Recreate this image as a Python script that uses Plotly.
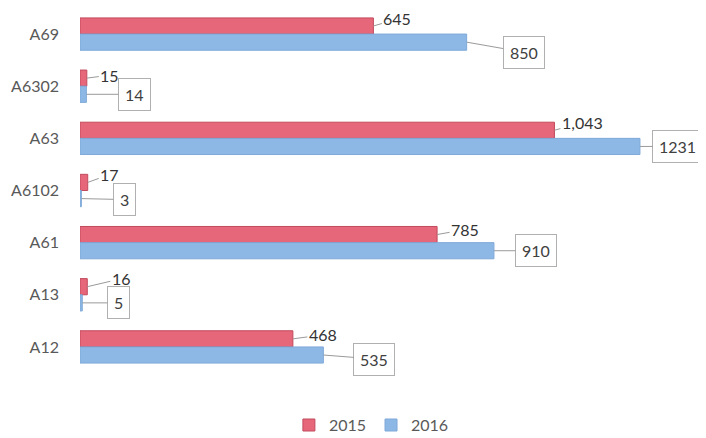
import plotly.graph_objects as go

categories = ["A69", "A6302", "A63", "A6102", "A61", "A13", "A12"]
values_2015 = [645, 15, 1043, 17, 785, 16, 468]
values_2016 = [850, 14, 1231, 3, 910, 5, 535]
labels_2015 = ["645", "15", "1,043", "17", "785", "16", "468"]
labels_2016 = ["850", "14", "1231", "3", "910", "5", "535"]

# label offsets (pixels)
off_2015 = [(24, -7), (23, -3), (28, -8), (22, -8), (28, -5), (34, -8), (30, -4)]
off_2016 = [(57, 10), (48, 0), (38, 0), (43, 1), (42, 0), (36, 0), (51, 4)]

RED = "#E6677A"
BLUE = "#8DB8E6"
FONT = "Lato, 'Open Sans', sans-serif"

fig = go.Figure()
fig.add_trace(go.Bar(
    name="2015", y=categories, x=values_2015, orientation="h",
    marker=dict(color=RED, line=dict(color="#C24A5C", width=1)),
))
fig.add_trace(go.Bar(
    name="2016", y=categories, x=values_2016, orientation="h",
    marker=dict(color=BLUE, line=dict(color="#7FA9D8", width=1)),
))

bar_w = 0.31
annotations = []
for i, cat in enumerate(categories):
    ax1, ay1 = off_2015[i]
    annotations.append(dict(
        x=values_2015[i], y=i - bar_w / 2, xref="x", yref="y",
        text=labels_2015[i], showarrow=True, arrowhead=0, arrowwidth=1,
        arrowcolor="#9a9a9a", ax=ax1, ay=ay1, standoff=0,
        font=dict(family=FONT, size=16, color="#333333"),
    ))
    ax2, ay2 = off_2016[i]
    annotations.append(dict(
        x=values_2016[i], y=i + bar_w / 2, xref="x", yref="y",
        text=labels_2016[i], showarrow=True, arrowhead=0, arrowwidth=1,
        arrowcolor="#9a9a9a", ax=ax2, ay=ay2, standoff=0,
        bordercolor="#b0b0b0", borderwidth=1, borderpad=6, bgcolor="white",
        font=dict(family=FONT, size=16, color="#404040"),
    ))

fig.update_layout(
    width=698, height=430,
    margin=dict(l=72, r=6, t=0, b=65),
    paper_bgcolor="white", plot_bgcolor="white",
    barmode="group", bargap=0.38, bargroupgap=0,
    font=dict(family=FONT, size=16, color="#595959"),
    xaxis=dict(range=[0, 1363], showgrid=False, zeroline=False, automargin=False,
               showticklabels=False, showline=False, ticks=""),
    yaxis=dict(autorange="reversed", showgrid=False, zeroline=False, automargin=False,
               showline=False, ticks="", ticklabelstandoff=20,
               tickfont=dict(family=FONT, size=16, color="#595959")),
    legend=dict(orientation="h", x=0.47, xanchor="center",
                yref="container", y=0.03, yanchor="middle",
                font=dict(family=FONT, size=16, color="#595959"),
                itemwidth=30, traceorder="normal"),
    annotations=annotations,
)

fig.write_html("out.html")
